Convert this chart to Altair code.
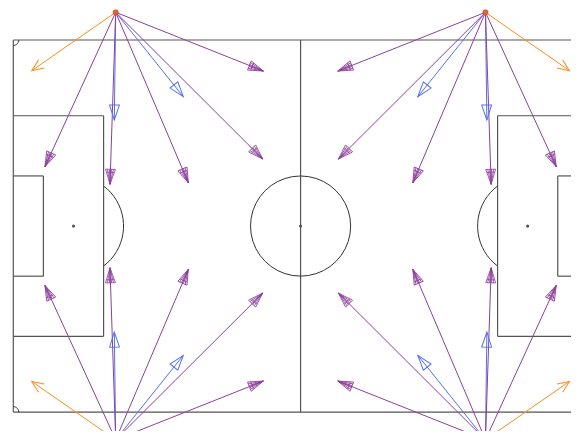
import altair as alt
import pandas as pd
import numpy as np

# ---------------- data (pitch metres, 105 x 68, y measured downward from top touchline) -------------
corner_x = [18.71, 86.29, 18.71, 86.29]
corner_y = [-5.06, -5.06, 73.06, 73.06]

kinds = ["orange", "purple", "purple", "blue", "purple", "blue", "purple", "purple"]

tl_end_x = [3.36, 5.79, 17.67, 18.46, 31.98, 31.07, 45.58, 45.69]
tl_end_y = [5.61, 23.14, 26.37, 14.62, 26.08, 10.36, 21.75, 5.67]

tr_end_x = [101.64, 99.21, 87.33, 86.54, 73.02, 73.93, 59.42, 59.31]
tr_end_y = [5.61, 23.14, 26.37, 14.62, 26.08, 10.36, 21.75, 5.67]

bl_end_x = [3.36, 5.79, 17.67, 18.46, 31.98, 31.07, 45.58, 45.69]
bl_end_y = [62.39, 44.86, 41.63, 53.38, 41.92, 57.64, 46.25, 62.33]

br_end_x = [101.64, 99.21, 87.33, 86.54, 73.02, 73.93, 59.42, 59.31]
br_end_y = [62.39, 44.86, 41.63, 53.38, 41.92, 57.64, 46.25, 62.33]

colors = {"orange": "#ff8c1a", "purple": "#8d3e9c", "blue": "#5470f0"}

# ---------------- tables ----------------
rows = []
ends = [(tl_end_x, tl_end_y), (tr_end_x, tr_end_y), (bl_end_x, bl_end_y), (br_end_x, br_end_y)]
for ci, (ex, ey) in enumerate(ends):
    for k, x2, y2 in zip(kinds, ex, ey):
        x1, y1 = corner_x[ci], corner_y[ci]
        dx, dy = x2 - x1, y2 - y1
        ang = (np.degrees(np.arctan2(-dx, dy)) + 360.0) % 360.0
        rows.append({"x": x1, "y": y1, "x2": x2, "y2": y2, "kind": k, "ang": ang})
arrows = pd.DataFrame(rows)
order_map = {"blue": 0, "purple": 1, "orange": 2}
arrows["o"] = arrows["kind"].map(order_map)
arrows = arrows.sort_values("o", kind="stable").reset_index(drop=True)

corners = pd.DataFrame({"x": corner_x, "y": corner_y})

L, W = 105.0, 68.0
pb_y1, pb_y2 = (W - 40.32) / 2, (W + 40.32) / 2
ga_y1, ga_y2 = (W - 18.32) / 2, (W + 18.32) / 2
segs = [
    (0, 0, L, 0), (0, W, L, W), (0, 0, 0, W), (L, 0, L, W), (L / 2, 0, L / 2, W),
    (0, pb_y1, 16.5, pb_y1), (16.5, pb_y1, 16.5, pb_y2), (0, pb_y2, 16.5, pb_y2),
    (0, ga_y1, 5.5, ga_y1), (5.5, ga_y1, 5.5, ga_y2), (0, ga_y2, 5.5, ga_y2),
    (L, pb_y1, L - 16.5, pb_y1), (L - 16.5, pb_y1, L - 16.5, pb_y2), (L, pb_y2, L - 16.5, pb_y2),
    (L, ga_y1, L - 5.5, ga_y1), (L - 5.5, ga_y1, L - 5.5, ga_y2), (L, ga_y2, L - 5.5, ga_y2),
]
lines = pd.DataFrame(segs, columns=["x", "y", "x2", "y2"])

curve_rows = []
def add_curve(name, xs, ys):
    for i, (a, b) in enumerate(zip(xs, ys)):
        curve_rows.append({"g": name, "i": i, "x": a, "y": b})

t = np.linspace(0, 2 * np.pi, 41)
add_curve("centre", L / 2 + 9.15 * np.cos(t), W / 2 + 9.15 * np.sin(t))
arc = np.arccos(5.5 / 9.15)
t = np.linspace(-arc, arc, 20)
add_curve("parc_l", 11 + 9.15 * np.cos(t), W / 2 + 9.15 * np.sin(t))
add_curve("parc_r", L - 11 - 9.15 * np.cos(t), W / 2 + 9.15 * np.sin(t))
t = np.linspace(0, np.pi / 2, 8)
add_curve("c_tl", np.cos(t), np.sin(t))
add_curve("c_tr", L - np.cos(t), np.sin(t))
add_curve("c_bl", np.cos(t), W - np.sin(t))
add_curve("c_br", L - np.cos(t), W - np.sin(t))
curves = pd.DataFrame(curve_rows)

spots = pd.DataFrame({"x": [11, L / 2, L - 11], "y": [W / 2] * 3})

# ---------------- scales (pixel-exact placement) ----------------
S = 5.472
X0, Y0 = 13.3 - 8, 40 - 8
WIDTH, HEIGHT = 563, 423
xs = alt.Scale(domain=[-X0 / S, (WIDTH - X0) / S], nice=False, zero=False)
ys = alt.Scale(domain=[-Y0 / S, (HEIGHT - Y0) / S], nice=False, zero=False, reverse=True)
X = lambda f="x": alt.X(f"{f}:Q", scale=xs, axis=None)
Y = lambda f="y": alt.Y(f"{f}:Q", scale=ys, axis=None)

pitch = alt.Chart(lines).mark_rule(color="#555555", strokeWidth=1.2, clip=True).encode(
    x=X(), y=Y(), x2="x2:Q", y2="y2:Q")
circ = alt.Chart(curves).mark_line(color="#333333", strokeWidth=1, clip=True).encode(
    x=X(), y=Y(), detail="g:N", order="i:Q")
spot = alt.Chart(spots).mark_point(filled=True, color="#555555", size=10, opacity=1).encode(x=X(), y=Y())

shafts = alt.Chart(arrows).mark_rule(strokeWidth=1, clip=True).encode(
    x=X(), y=Y(), x2="x2:Q", y2="y2:Q",
    color=alt.Color("kind:N", scale=alt.Scale(domain=list(colors), range=list(colors.values())), legend=None),
    order="o:Q")

HEAD_SOLID = "M0,0 L-0.33,-1 L0.33,-1 Z"
HEAD_FAN = ("M0,0 L-0.33,-1 L0.33,-1 Z M0,0 L-0.2,-1 M0,0 L0.2,-1 M0,0 L-0.07,-1 M0,0 L0.07,-1 "
            "M-0.26,-0.8 L0.26,-0.8")
HEAD_OPEN = "M-0.42,-1 L0,0 L0.42,-1"

def heads(kind, shape, size, sw):
    return alt.Chart(arrows).transform_filter(alt.datum.kind == kind).mark_point(
        shape=shape, size=size, filled=False, opacity=1, strokeWidth=sw, color=colors[kind], clip=True
    ).encode(x=X("x2"), y=Y("y2"), angle=alt.Angle("ang:Q", scale=None))

h_blue = heads("blue", HEAD_SOLID, 900, 1)
h_purple = heads("purple", HEAD_FAN, 900, 0.8)
h_orange = heads("orange", HEAD_OPEN, 560, 1)

dots = alt.Chart(corners).mark_point(filled=True, size=28, color="#e8602c", opacity=1,
                                     stroke="#c9501f", strokeWidth=0.6, clip=True).encode(x=X(), y=Y())

chart = alt.layer(pitch, circ, spot, shafts, h_blue, h_purple, h_orange, dots).properties(
    width=WIDTH, height=HEIGHT, padding=0, autosize=alt.AutoSizeParams(type="none"),
    background="white"
).configure_view(strokeWidth=0)

chart.save("out.html", embed_options={"renderer": "svg", "actions": False})
